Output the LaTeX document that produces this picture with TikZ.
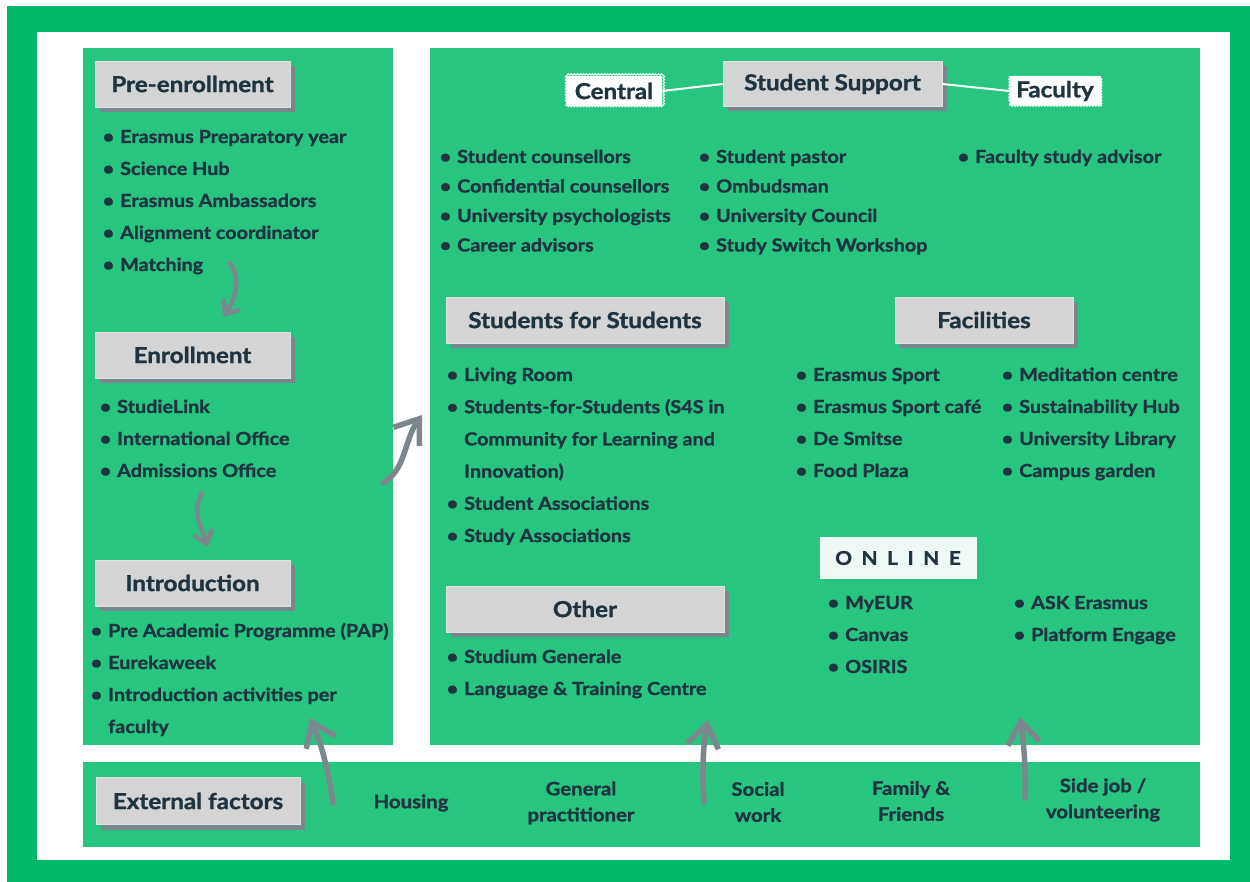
\documentclass[tikz,border=0pt]{standalone}
\usepackage{fontspec}
\setmainfont{Lato}[BoldFeatures={FakeBold=1.3, FakeStretch=1.1}]
\usetikzlibrary{arrows.meta,shadows,decorations.pathmorphing}
\definecolor{outergreen}{HTML}{00B96B}
\definecolor{panelgreen}{HTML}{28C580}
\definecolor{hdrgray}{HTML}{D4D4D4}
\definecolor{shadegray}{HTML}{7A868E}
\definecolor{ink}{HTML}{1F3441}
\definecolor{arrowgray}{HTML}{7B878D}
\definecolor{onlinebg}{HTML}{EEF8F4}
\newcommand\bul{\llap{\textbullet\hspace{6pt}}}
\begin{document}
\begin{tikzpicture}[x=1pt,y=-1pt,
  hdr/.style={fill=hdrgray, draw=hdrgray!70!white, line width=0.6pt, text=ink,
    font=\fontsize{22}{26}\selectfont\bfseries, inner sep=0,
    drop shadow={fill=shadegray, opacity=1, shadow xshift=5pt, shadow yshift=-5pt}},
  item/.style={anchor=base west, inner sep=0, text=ink, font=\fontsize{18}{21}\selectfont\bfseries},
  ext/.style={align=center, inner sep=0, text=ink, font=\fontsize{18.5}{26}\selectfont\bfseries},
  tag/.style={fill=white, inner sep=0, text=ink, font=\fontsize{22}{26}\selectfont\bfseries,
    postaction={draw=white, line width=1pt, decorate, decoration={snake, amplitude=0.8pt, segment length=3pt}}},
  flowsmall/.style={draw=arrowgray, line width=4.5pt, line cap=round,
    -{Straight Barb[length=12pt, width=20pt, line width=4.5pt]}},
  flowbig/.style={draw=arrowgray, line width=5.5pt, line cap=round,
    -{Straight Barb[length=22pt, width=32pt, line width=5.5pt]}},
  link/.style={draw=white, line width=2pt}
]
\useasboundingbox (0,0) rectangle (1250,882);
% backgrounds
\fill[white] (0,0) rectangle (1250,882);
\fill[outergreen] (7,6) rectangle (1250,882);
\fill[white] (37,32) rectangle (1230,860);
\fill[panelgreen] (83,48) rectangle (393,745);
\fill[panelgreen] (430,48) rectangle (1200,745);
\fill[panelgreen] (83,762) rectangle (1200,847);

% headers
\node[hdr, minimum width=195, minimum height=46] (pre) at (192.5,84) {Pre-enrollment};
\node[hdr, minimum width=195, minimum height=46] (enr) at (192.5,355) {Enrollment};
\node[hdr, minimum width=195, minimum height=46] (intro) at (192.5,583) {Introduction};
\node[hdr, minimum width=219, minimum height=45] (ss) at (832.5,84) {Student Support};
\node[hdr, minimum width=278, minimum height=46] (sfs) at (585,320) {Students for Students};
\node[hdr, minimum width=178, minimum height=46] (fac) at (984,320) {Facilities};
\node[hdr, minimum width=278, minimum height=46] (oth) at (585,609) {Other};
\node[hdr, minimum width=204, minimum height=47] (ext) at (198,801) {External factors};

\node[tag, minimum width=96, minimum height=30] (central) at (614,91) {Central};
\node[tag, minimum width=91, minimum height=29] (faculty) at (1055,91) {Faculty};
\draw[link] (central.east) -- (ss.west);
\draw[link] (ss.east) -- (faculty.west);

\node[fill=onlinebg, minimum width=157, minimum height=42, inner sep=0, text=ink,
  font=\fontsize{19}{22}\selectfont\bfseries\addfontfeatures{LetterSpace=50}] (online) at (898,558) {ONLINE\hspace{-9pt}};

% lists
\foreach \t [count=\i from 0] in {\bul Erasmus Preparatory year, \bul Science Hub, \bul Erasmus Ambassadors, \bul Alignment coordinator, \bul Matching}
  \node[item] (pre\i) at (120,{143+32*\i}) {\t};
\foreach \t [count=\i from 0] in {\bul StudieLink, \bul International Office, \bul Admissions Office}
  \node[item] (enr\i) at (117,{413+32*\i}) {\t};
\foreach \t [count=\i from 0] in {\bul Pre Academic Programme (PAP), \bul Eurekaweek, \bul Introduction activities per, faculty}
  \node[item] (intro\i) at (108,{637+32*\i}) {\t};
\foreach \t [count=\i from 0] in {\bul Student counsellors, \bul Confidential counsellors, \bul University psychologists, \bul Career advisors}
  \node[item] (cen\i) at (457,{163+29.5*\i}) {\t};
\foreach \t [count=\i from 0] in {\bul Student pastor, \bul Ombudsman, \bul University Council, \bul Study Switch Workshop}
  \node[item] (cenb\i) at (716,{163+29.5*\i}) {\t};
\node[item] (fac0) at (975,163) {\bul Faculty study advisor};
\foreach \t [count=\i from 0] in {\bul Living Room, \bul Students-for-Students (S4S in, Community for Learning and, Innovation), \bul Student Associations, \bul Study Associations}
  \node[item] (sfs\i) at (464,{381+32.2*\i}) {\t};
\foreach \t [count=\i from 0] in {\bul Erasmus Sport, \bul Erasmus Sport café, \bul De Smitse, \bul Food Plaza}
  \node[item] (faca\i) at (813,{381+32*\i}) {\t};
\foreach \t [count=\i from 0] in {\bul Meditation centre, \bul Sustainability Hub, \bul University Library, \bul Campus garden}
  \node[item] (facb\i) at (1019,{381+32*\i}) {\t};
\foreach \t [count=\i from 0] in {\bul MyEUR, \bul Canvas, \bul OSIRIS}
  \node[item] (ona\i) at (845,{609+32*\i}) {\t};
\foreach \t [count=\i from 0] in {\bul ASK Erasmus, \bul Platform Engage}
  \node[item] (onb\i) at (1031,{609+32*\i}) {\t};
\foreach \t [count=\i from 0] in {\bul Studium Generale, \bul Language \& Training Centre}
  \node[item] (oth\i) at (464,{663+32*\i}) {\t};

% external factors
\node[ext] (housing) at (411,803) {Housing};
\node[ext] (gp) at (581,803) {General\\practitioner};
\node[ext] (social) at (758,802) {Social\\work};
\node[ext] (family) at (911,801) {Family \&\\Friends};
\node[ext] (side) at (1103,800) {Side job /\\volunteering};

% arrows
\coordinate (a1s) at (230,263); \coordinate (a1e) at (223,317);
\coordinate (a2s) at (202,493); \coordinate (a2e) at (208,547);
\coordinate (a3s) at (383,483); \coordinate (a3e) at (422,415);
\coordinate (a4s) at (333,803); \coordinate (a4e) at (310,718);
\coordinate (a5s) at (704,802); \coordinate (a5e) at (708,720);
\coordinate (a6s) at (1025,798); \coordinate (a6e) at (1020,717);
\draw[flowsmall] (a1s) .. controls (241,280) and (236,298) .. (a1e);
\draw[flowsmall] (a2s) .. controls (192,510) and (200,524) .. (a2e);
\draw[flowbig] (a3s) .. controls (406,470) and (404,440) .. (a3e);
\draw[flowbig] (a4s) .. controls (328,770) and (322,745) .. (a4e);
\draw[flowbig] (a5s) .. controls (702,770) and (703,745) .. (a5e);
\draw[flowbig] (a6s) .. controls (1026,770) and (1024,745) .. (a6e);
\end{tikzpicture}
\end{document}
